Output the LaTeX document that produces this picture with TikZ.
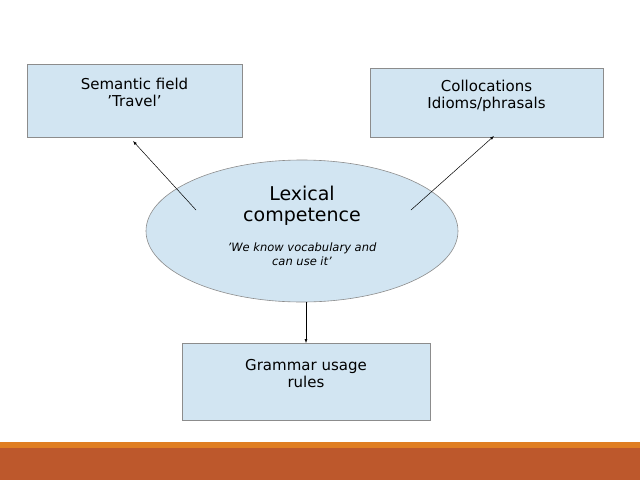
\documentclass[tikz,border=0pt]{standalone}
\usepackage{fontspec}
\setmainfont{DejaVu Sans}
\usetikzlibrary{arrows.meta}
\definecolor{boxfill}{HTML}{D2E5F2}
\definecolor{boxline}{HTML}{8C8C8C}
\definecolor{barorange}{HTML}{E07E22}
\definecolor{barred}{HTML}{BD582C}
\begin{document}
\begin{tikzpicture}[x=1pt,y=-1pt,
  box/.style={draw=boxline,fill=boxfill,line width=0.6pt},
  txt/.style={align=center,font=\fontsize{15}{17}\selectfont,anchor=north,inner sep=0pt},
  arr/.style={-{Latex[length=4pt,width=3pt]},line width=0.5pt}]
\useasboundingbox (0,0) rectangle (640,480);
\fill[barorange] (0,442) rectangle (640,448);
\fill[barred] (0,448) rectangle (640,480);
\draw[box] (27,64) rectangle (242,137);
\node[txt] (sf) at (134.5,78) {Semantic field\\'Travel'};
\coordinate (sfb) at (133,141);
\draw[box] (370,68) rectangle (603,137);
\node[txt] (co) at (486.5,80) {Collocations\\Idioms/phrasals};
\coordinate (cob) at (494,136);
\draw[box] (302,231) ellipse (156 and 71);
\node[align=center,inner sep=0pt,anchor=north,font=\fontsize{19}{21}\selectfont] (lc) at (302,186) {Lexical\\competence};
\node[align=center,inner sep=0pt,anchor=north,font=\fontsize{11.5}{14}\selectfont\itshape] (lq) at (302,243) {'We know vocabulary and\\can use it'};
\coordinate (l1) at (196,210);
\coordinate (l2) at (411,210);
\coordinate (l3) at (306,302);
\draw[box] (182,343) rectangle (430,420);
\node[txt] (gr) at (306,359) {Grammar usage\\rules};
\coordinate (grt) at (306,343);
\draw[arr] (l1) -- (sfb);
\draw[arr] (l2) -- (cob);
\draw[arr] (l3) -- (grt);
\end{tikzpicture}
\end{document}
